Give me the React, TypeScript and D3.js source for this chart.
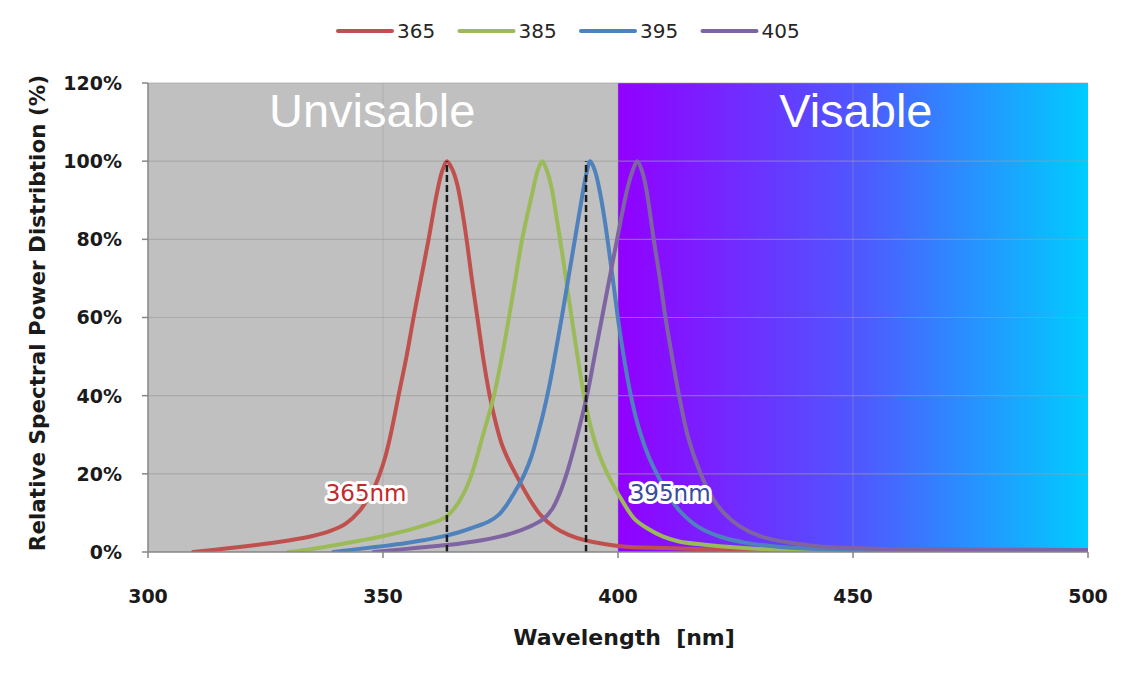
import React from 'react';
import * as d3 from 'd3';

// ---------- data ----------
const seriesNames = ['365', '385', '395', '405'];
const seriesColors = ['#c0504d', '#9bbb59', '#4f81bd', '#7f64a2'];

const nm365 = [309.6, 317.5, 325, 330.2, 335, 338.8, 342, 345, 346.8, 348.5, 349.4, 350.4, 351.4, 352.4, 353.3, 355, 356.5, 358.1, 359.7, 361.5, 362.6, 363.6, 364.7, 365.8, 366.9, 367.9, 369, 370.2, 371.4, 372.7, 374, 375.3, 376.7, 378.2, 380.7, 383.5, 386.5, 389.5, 393, 400.5, 410, 420, 430, 440, 450];
const pct365 = [0, 1, 2.1, 3, 4.1, 5.4, 7.2, 10.5, 13.7, 17.5, 20.3, 24, 28.8, 34.5, 40, 50, 60, 70, 80, 92, 97.5, 100, 98, 94, 87, 79, 69, 59, 49, 40, 33, 27.5, 23.5, 20, 14.5, 9.5, 6.3, 4.4, 3, 1.5, 1, 0.7, 0.4, 0.2, 0];

const nm385 = [329.8, 335, 340, 345, 349.4, 353, 356.5, 360, 361.8, 363.6, 365.3, 367.1, 368.9, 371.3, 373.6, 375.3, 376.8, 378.2, 379.6, 381.8, 382.9, 383.9, 384.9, 385.9, 387, 388, 389.1, 390.2, 391.4, 392.7, 394.3, 396.3, 398.6, 401.2, 403.5, 406.3, 409.5, 413, 419, 424.6, 435, 450];
const pct385 = [0, 0.8, 1.8, 2.9, 3.9, 4.9, 6, 7.3, 8, 9.2, 11.3, 14.8, 20, 30, 40, 50, 60, 70, 80, 92, 97.5, 100, 97.5, 93, 85, 77.5, 68.5, 59.5, 50, 40.5, 31.5, 24, 18, 12.5, 8.5, 6, 4, 2.7, 1.8, 1.2, 0.5, 0];

const nm395 = [339.4, 345, 350, 355, 358.5, 362, 366, 370, 372.5, 374.6, 376.3, 378, 379.3, 380.3, 381.6, 382.8, 384, 385.3, 386.7, 388.1, 389.5, 390.9, 392.3, 393.3, 394.1, 395.1, 396, 397.1, 398.1, 399.1, 400.2, 401.5, 403, 404.6, 406.5, 408.7, 411, 413.3, 417, 421.8, 427, 433, 440, 450, 470];
const pct395 = [0, 0.8, 1.5, 2.3, 3, 3.8, 5, 6.6, 7.8, 9.5, 12, 15.3, 18, 20.5, 24.5, 29.5, 35, 42, 51, 60.5, 70.5, 80.5, 90.5, 97, 100, 97.5, 93, 85.5, 77, 68, 58, 48, 38.5, 31, 24.5, 19, 14, 10.3, 6.5, 3.9, 2.4, 1.5, 0.9, 0.5, 0.2];

const nm405 = [348, 355, 362, 366.5, 371, 375, 378, 381, 384.2, 386, 387.6, 389.2, 390.5, 391.9, 393.4, 395, 396.6, 398.2, 399.8, 402, 403.1, 404.1, 405.1, 406, 407.6, 408.9, 410.1, 411.5, 413, 415, 417.6, 420, 422.5, 426, 430.4, 436, 442.4, 450, 460, 480, 500];
const pct405 = [0, 0.8, 1.6, 2.2, 3, 4, 5, 6.4, 8.5, 11, 15, 20.5, 26, 32.5, 40, 50, 60, 70, 80, 93, 97.5, 100, 97.5, 93, 80, 70, 60, 50, 40, 29, 20, 14, 10, 6.5, 4, 2.5, 1.5, 1, 0.7, 0.6, 0.5];

const seriesNm = [nm365, nm385, nm395, nm405];
const seriesPct = [pct365, pct385, pct395, pct405];

const xTicks = [300, 350, 400, 450, 500];
const yTicks = [0, 20, 40, 60, 80, 100, 120];
const xDomain = [300, 500];
const yDomain = [0, 120];
const visibleStart = 400;

const peakMarkerNm = [363.6, 393.2];
const regionNames = ['Unvisable', 'Visable'];
const regionCenterNm = [347.7, 450.6];
const peakLabelTexts = ['365nm', '395nm'];
const peakLabelNm = [346.4, 411.1];
const peakLabelPct = [13, 13];
const peakLabelColors = ['#c3282d', '#3a4a9c'];

// ---------- layout ----------
const W = 1131;
const H = 683;
const L = 148, R = 1088, T = 83, B = 552;

export default function App() {
  const x = d3.scaleLinear().domain(xDomain).range([L, R]);
  const y = d3.scaleLinear().domain(yDomain).range([B, T]);

  const line = d3
    .line<[number, number]>()
    .x((d) => x(d[0]))
    .y((d) => y(d[1]))
    .curve(d3.curveCatmullRom.alpha(0.5));

  const tickFont = '"DejaVu Sans", Verdana, sans-serif';
  const gridColor = '#9c9c9c';

  return (
    <svg
      width={W}
      height={H}
      viewBox={`0 0 ${W} ${H}`}
      style={{ position: 'absolute', left: 0, top: 0, background: '#fff' }}
    >
      <defs>
        <linearGradient id="visGrad" gradientUnits="userSpaceOnUse" x1={x(visibleStart)} y1={0} x2={x(500)} y2={0}>
          <stop offset="0" stopColor="#9200ff" />
          <stop offset="0.5" stopColor="#5155ff" />
          <stop offset="1" stopColor="#00ccff" />
        </linearGradient>
        <clipPath id="plotClip">
          <rect x={L} y={T - 5} width={R - L} height={B - T + 5} />
        </clipPath>
      </defs>

      {/* backgrounds */}
      <rect x={x(300)} y={T} width={x(visibleStart) - x(300)} height={B - T} fill="#c0c0c0" />
      <rect x={x(visibleStart)} y={T} width={x(500) - x(visibleStart)} height={B - T} fill="url(#visGrad)" />

      {/* grid */}
      {yTicks.filter((t) => t > 0).map((t) => (
        <line key={'gy' + t} x1={L} x2={R} y1={y(t)} y2={y(t)} stroke={gridColor} strokeWidth={1.2} opacity={0.6} />
      ))}
      {xTicks.filter((t) => t > 300 && t < 500).map((t) => (
        <line key={'gx' + t} x1={x(t)} x2={x(t)} y1={T} y2={B} stroke={gridColor} strokeWidth={1} opacity={0.45} />
      ))}

      {/* region labels */}
      {regionNames.map((n, i) => (
        <text
          key={n}
          x={x(regionCenterNm[i])}
          y={127}
          textAnchor="middle"
          fill="#ffffff"
          fontFamily='"Liberation Sans", Arial, sans-serif'
          fontSize={47}
        >
          {n}
        </text>
      ))}

      {/* curves */}
      <g clipPath="url(#plotClip)">
        {seriesNames.map((s, i) => {
          const pts = seriesNm[i].map((v, j) => [v, seriesPct[i][j]] as [number, number]);
          return (
            <path
              key={s}
              d={line(pts) || ''}
              fill="none"
              stroke={seriesColors[i]}
              strokeWidth={4}
              strokeLinejoin="round"
              strokeLinecap="round"
            />
          );
        })}
      </g>

      {/* peak markers */}
      {peakMarkerNm.map((m) => (
        <line
          key={'pm' + m}
          x1={x(m)}
          x2={x(m)}
          y1={y(0)}
          y2={y(100)}
          stroke="#1a1a1a"
          strokeWidth={2.5}
          strokeDasharray="7,3"
        />
      ))}

      {/* peak labels */}
      {peakLabelTexts.map((t, i) => (
        <text
          key={t}
          x={x(peakLabelNm[i])}
          y={y(peakLabelPct[i])}
          textAnchor="middle"
          fontFamily={tickFont}
          fontSize={23}
          fill={peakLabelColors[i]}
          stroke="#ffffff"
          strokeWidth={6}
          strokeLinejoin="round"
          paintOrder="stroke"
        >
          {t}
        </text>
      ))}

      {/* axes */}
      <line x1={L} x2={L} y1={T} y2={B} stroke="#868686" strokeWidth={1.5} />
      <line x1={L} x2={R} y1={B} y2={B} stroke="#868686" strokeWidth={1.5} />
      {yTicks.map((t) => (
        <g key={'yt' + t}>
          <line x1={L - 6} x2={L} y1={y(t)} y2={y(t)} stroke="#868686" strokeWidth={1.5} />
          <text
            x={122}
            y={y(t)}
            dy="0.36em"
            textAnchor="end"
            fontFamily={tickFont}
            fontWeight="bold"
            fontSize={19}
            fill="#1a1a1a"
          >
            {t + '%'}
          </text>
        </g>
      ))}
      {xTicks.map((t) => (
        <g key={'xt' + t}>
          <line x1={x(t)} x2={x(t)} y1={B} y2={B + 6} stroke="#868686" strokeWidth={1.5} />
          <text
            x={x(t)}
            y={596}
            dy="0.36em"
            textAnchor="middle"
            fontFamily={tickFont}
            fontWeight="bold"
            fontSize={19}
            fill="#1a1a1a"
          >
            {t}
          </text>
        </g>
      ))}

      {/* axis titles */}
      <text
        x={624}
        y={637}
        dy="0.36em"
        textAnchor="middle"
        fontFamily={tickFont}
        fontWeight="bold"
        fontSize={22}
        fill="#1a1a1a"
        style={{ whiteSpace: 'pre' }}
      >
        {'Wavelength  [nm]'}
      </text>
      <text
        transform="translate(37,313) rotate(-90)"
        dy="0.36em"
        textAnchor="middle"
        fontFamily={tickFont}
        fontWeight="bold"
        fontSize={21.5}
        fill="#1a1a1a"
      >
        Relative Spectral Power Distribtion (%)
      </text>

      {/* legend */}
      {seriesNames.map((s, i) => {
        const lx = 338 + i * 121.5;
        return (
          <g key={'lg' + s}>
            <line x1={lx} x2={lx + 54} y1={31} y2={31} stroke={seriesColors[i]} strokeWidth={4} strokeLinecap="round" />
            <text
              x={lx + 59}
              y={31}
              dy="0.36em"
              fontFamily={tickFont}
              fontSize={20}
              fill="#262626"
            >
              {s}
            </text>
          </g>
        );
      })}
    </svg>
  );
}
